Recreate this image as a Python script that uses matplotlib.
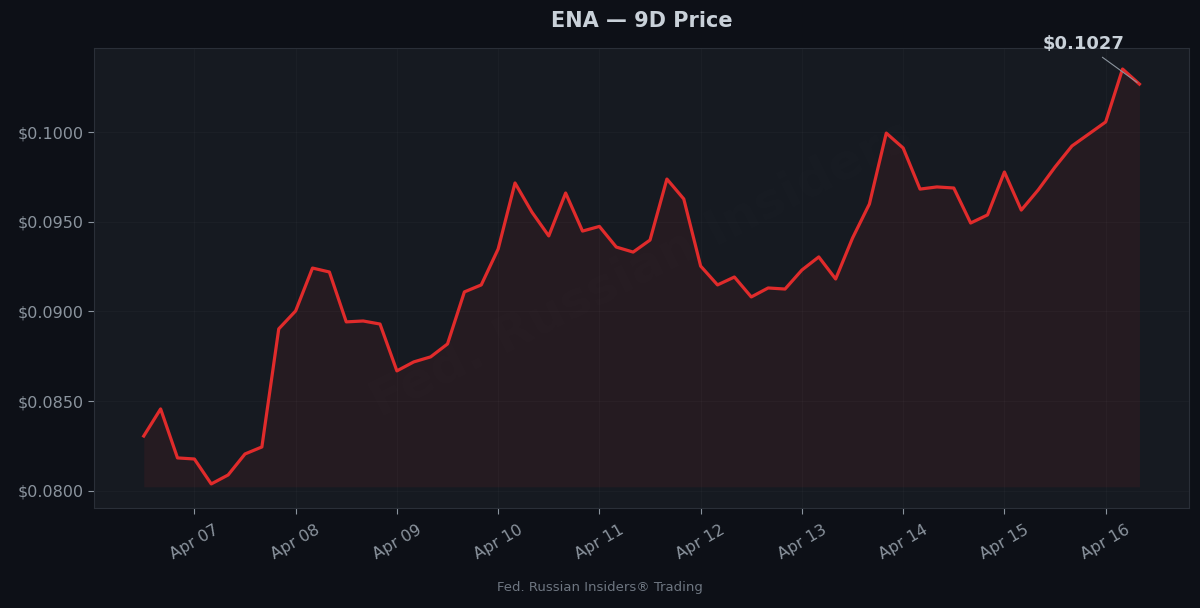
import matplotlib
matplotlib.use("Agg")
import matplotlib.pyplot as plt
import matplotlib.dates as mdates
import pandas as pd

# Data (4h candles, Apr 06 12:00 -> Apr 16 08:00)
start = "2025-04-06 12:00"
prices = [
    0.08306, 0.08457, 0.08184, 0.08178, 0.08039, 0.08089, 0.08206, 0.08245,
    0.08903, 0.09003, 0.09242, 0.09220, 0.08942, 0.08947, 0.08930, 0.08669,
    0.08719, 0.08747, 0.08819, 0.09109, 0.09148, 0.09348, 0.09716, 0.09554,
    0.09421, 0.09660, 0.09448, 0.09474, 0.09359, 0.09331, 0.09398, 0.09738,
    0.09627, 0.09253, 0.09148, 0.09192, 0.09081, 0.09131, 0.09125, 0.09231,
    0.09304, 0.09181, 0.09409, 0.09599, 0.09994, 0.09911, 0.09682, 0.09694,
    0.09688, 0.09493, 0.09538, 0.09777, 0.09565, 0.09677, 0.09805, 0.09922,
    0.09989, 0.10056, 0.10351, 0.10267,
]
times = pd.date_range(start, periods=len(prices), freq="4h")
title = "ENA \u2014 9D Price"
footer = "Fed. Russian Insiders\u00ae Trading"

# Colors
bg = "#0d1017"
panel = "#161a21"
red = "#e02b2b"
txt = "#c9d1d9"
muted = "#8b949e"

fig = plt.figure(figsize=(12, 6.08), dpi=100, facecolor=bg)
ax = fig.add_axes([0.0783, 0.1645, 0.9127, 0.7565])
ax.set_facecolor(panel)

base = min(prices) * 0.998
# faint watermark
ax.text(0.5, 0.52, "Fed. Russian Insiders", transform=ax.transAxes,
        fontsize=36, color="white", alpha=0.012, rotation=27,
        ha="center", va="center", fontweight="bold", zorder=0)
ax.fill_between(times, prices, base, color=red, alpha=0.08, lw=0, zorder=1)
ax.plot(times, prices, color=red, lw=2.3, zorder=3)

ax.set_ylim(0.07905, 0.10468)

ax.xaxis.set_major_locator(mdates.DayLocator())
ax.xaxis.set_major_formatter(mdates.DateFormatter("%b %d"))
ax.yaxis.set_major_formatter(plt.FuncFormatter(lambda v, p: f"${v:.4f}"))
for lab in ax.get_xticklabels():
    lab.set_rotation(30)
    lab.set_ha("center")

ax.tick_params(colors=muted, labelsize=11.5, length=4, width=0.8)
ax.tick_params(axis="x", pad=6)
ax.grid(True, color="#ffffff", alpha=0.025, lw=0.8)
for s in ax.spines.values():
    s.set_color("#2a2f38")
    s.set_linewidth(0.8)

ax.set_title(title, color=txt, fontsize=15, fontweight="bold", pad=15)

last_t, last_p = times[-1], prices[-1]
ax.annotate(f"${last_p:.4f}", xy=(last_t, last_p), xytext=(-40, 29),
            textcoords="offset points", ha="center", va="center",
            color=txt, fontsize=13, fontweight="bold",
            arrowprops=dict(arrowstyle="-", color="#8b949e", lw=0.8),
            annotation_clip=False, zorder=4)

fig.text(0.5, 0.033, footer, ha="center", va="center", color="#6e7681", fontsize=9.5)

fig.savefig("out.png", dpi=100, facecolor=bg)
